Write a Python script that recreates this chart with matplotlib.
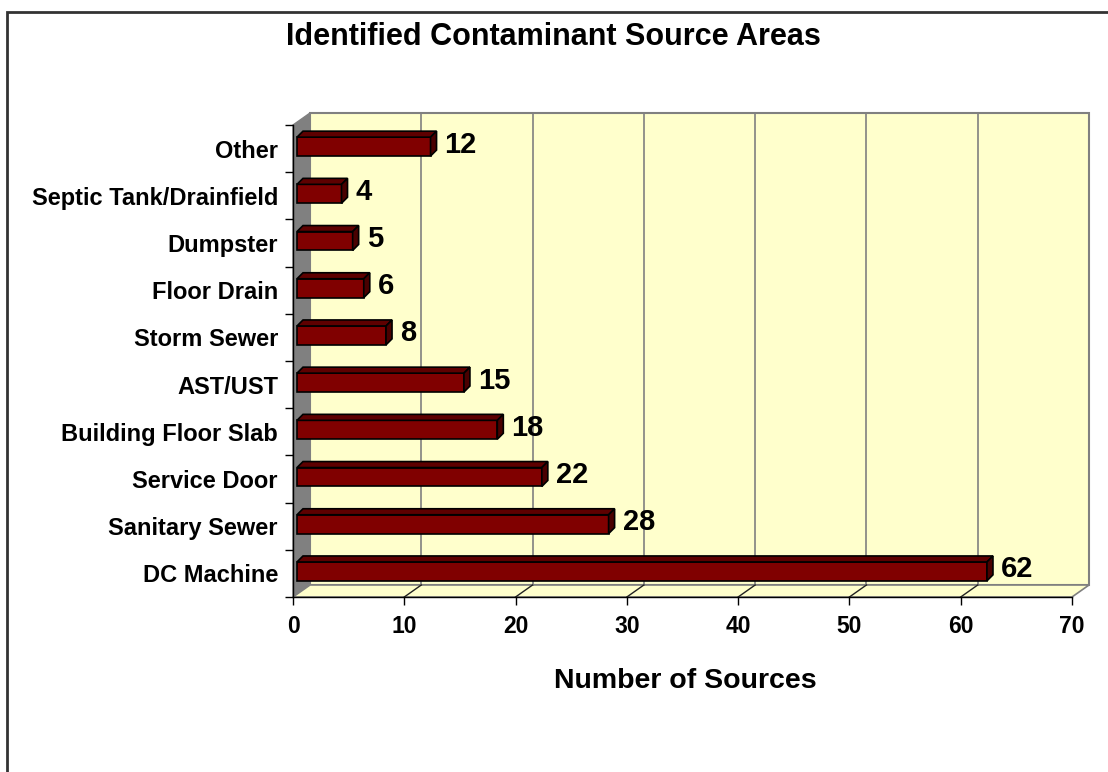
import matplotlib
matplotlib.use("Agg")
import matplotlib.pyplot as plt
from matplotlib.patches import Polygon, Rectangle

plt.rcParams.update({
    "font.family": "Liberation Sans",
    "font.weight": "bold",
})

# ---------------------------------------------------------------------------
# Datos
# ---------------------------------------------------------------------------
categories = ["DC Machine", "Sanitary Sewer", "Service Door", "Building Floor Slab",
              "AST/UST", "Storm Sewer", "Floor Drain", "Dumpster",
              "Septic Tank/Drainfield", "Other"]
counts = [62, 28, 22, 18, 15, 8, 6, 5, 4, 12]
x_ticks = [0, 10, 20, 30, 40, 50, 60, 70]

title = "Identified Contaminant Source Areas"
x_label = "Number of Sources"

# Colores estilo Excel 3D
WALL = "#FFFFCC"
SIDE_WALL = "#808080"
GRID = "#808080"
BAR_FRONT = "#800000"
BAR_TOP = "#5e0000"
BAR_SIDE = "#4a0000"

W, H = 1108, 772
fig = plt.figure(figsize=(W / 100, H / 100), dpi=100)

# plano frontal del gráfico (píxeles)
x0_px, x1_px, ytop_px, ybot_px = 293, 1072, 125, 597
ax = fig.add_axes([x0_px / W, (H - ybot_px) / H,
                   (x1_px - x0_px) / W, (ybot_px - ytop_px) / H])
xmax = x_ticks[-1]
n = len(categories)
ax.set_xlim(0, xmax)
ax.set_ylim(-0.5, n - 0.5)

# conversión píxel -> datos
sx = (x1_px - x0_px) / xmax
sy = (ybot_px - ytop_px) / n
wx, wy = 17 / sx, 12 / sy          # profundidad de las paredes
bx, by = 4 / sx, 2 / sy            # desplazamiento de la cara frontal de la barra
dx, dy = 6 / sx, 6 / sy            # profundidad de la barra
bar_h = 0.4

ylo, yhi = -0.5, n - 0.5

# pared del fondo
ax.add_patch(Rectangle((wx, ylo + wy), xmax, n, facecolor=WALL, edgecolor=GRID,
                       lw=1.5, zorder=0.5, clip_on=False))
# pared lateral
ax.add_patch(Polygon([(0, ylo), (0, yhi), (wx, yhi + wy), (wx, ylo + wy)],
                     closed=True, facecolor=SIDE_WALL, edgecolor=GRID, lw=1,
                     zorder=0.6, clip_on=False))
# suelo
ax.add_patch(Polygon([(0, ylo), (xmax, ylo), (xmax + wx, ylo + wy), (wx, ylo + wy)],
                     closed=True, facecolor=WALL, edgecolor=GRID, lw=1.2,
                     zorder=0.6, clip_on=False))
# rejilla
for t in x_ticks[1:-1]:
    ax.plot([t + wx, t + wx], [ylo + wy, yhi + wy], color=GRID, lw=1.2,
            zorder=0.7, clip_on=False)
    ax.plot([t, t + wx], [ylo, ylo + wy], color="#222222", lw=1,
            zorder=0.7, clip_on=False)

# barras
ypos = list(range(n))
ax.barh([y + by for y in ypos], counts, height=bar_h, left=bx,
        color=BAR_FRONT, edgecolor="black", lw=1.2, zorder=3)
for y, v in zip(ypos, counts):
    yc = y + by
    top = yc + bar_h / 2
    bot = yc - bar_h / 2
    ax.add_patch(Polygon([(bx, top), (bx + v, top), (bx + v + dx, top + dy), (bx + dx, top + dy)],
                         closed=True, facecolor=BAR_TOP, edgecolor="black", lw=1.2,
                         zorder=3, clip_on=False))
    ax.add_patch(Polygon([(bx + v, bot), (bx + v, top), (bx + v + dx, top + dy), (bx + v + dx, bot + dy)],
                         closed=True, facecolor=BAR_SIDE, edgecolor="black", lw=1.2,
                         zorder=3, clip_on=False))
    ax.text(bx + v + dx + 8 / sx, yc + dy / 2 - 1 / sy, f"{v}", ha="left", va="center",
            fontsize=21, fontweight="bold", zorder=4, clip_on=False)

# ejes
for s in ["top", "right"]:
    ax.spines[s].set_visible(False)
for s in ["left", "bottom"]:
    ax.spines[s].set_color("black")
    ax.spines[s].set_linewidth(1)
    ax.spines[s].set_zorder(2.5)

ax.set_xticks(x_ticks)
ax.set_xticklabels([str(t) for t in x_ticks], fontsize=16.5, fontweight="bold")
ax.tick_params(axis="x", direction="out", length=5.8, width=1, pad=7)

ax.set_yticks([i - 0.5 for i in range(n + 1)])
ax.set_yticklabels([])
ax.set_yticks(ypos, minor=True)
ax.set_yticklabels(categories, minor=True, fontsize=17, fontweight="bold")
ax.tick_params(axis="y", which="major", direction="out", length=5.8, width=1)
ax.tick_params(axis="y", which="minor", length=0, pad=10.8)
ax.set_facecolor("none")

fig.text(553 / W, 1 - 37 / H, title, ha="center", va="center",
         fontsize=22, fontweight="bold")
fig.text(685 / W, 1 - 681 / H, x_label, ha="center", va="center",
         fontsize=20.5, fontweight="bold")

# marco del gráfico
fig.patches.append(Rectangle((7 / W, -0.05), 1.0, 1 - 11.5 / H + 0.05,
                             transform=fig.transFigure, fill=False,
                             edgecolor="#333333", lw=2))

fig.savefig("out.png", dpi=100)
